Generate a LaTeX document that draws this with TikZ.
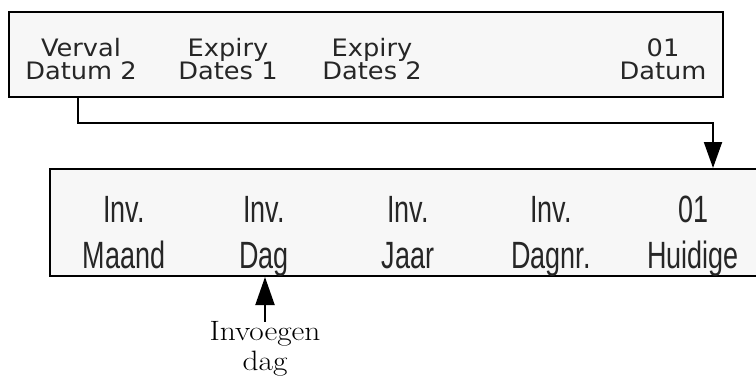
\documentclass[tikz,border=0pt]{standalone}
\usepackage{fontspec}
\usetikzlibrary{arrows.meta}
\newfontfamily\topfont[FakeStretch=1.07]{DejaVu Sans}
\newfontfamily\botfont[FakeStretch=0.71]{Liberation Sans}
\newfontfamily\labfont[FakeStretch=1.12]{Latin Modern Roman}
\begin{document}
\begin{tikzpicture}[x=1bp,y=-1bp,
  box/.style={draw=black, line width=2bp, fill=white!97!black, rectangle, inner sep=0pt, anchor=north west},
  toptxt/.style={font=\topfont\fontsize{24bp}{23bp}\selectfont, text=black!85, anchor=base, inner sep=0pt},
  bottxt/.style={font=\botfont\fontsize{38bp}{45bp}\selectfont, text=black!85, anchor=base, inner sep=0pt},
  labtxt/.style={font=\labfont\fontsize{28bp}{30bp}\selectfont, align=center, anchor=north, inner sep=0pt},
  conn/.style={draw=black, line width=2bp, -{Triangle[width=18bp,length=26bp]}}]
\useasboundingbox (0,0) rectangle (756,376);
\clip (0,0) rectangle (756,376);
\fill[white] (0,0) rectangle (756,376);
% top box
\node[box, minimum width=714bp, minimum height=85bp] (topbox) at (8,11) {};
\node[toptxt] (t1a) at (81,56) {Verval};
\node[toptxt] (t1b) at (81,79) {Datum 2};
\node[toptxt] (t2a) at (228,56) {Expiry};
\node[toptxt] (t2b) at (228,79) {Dates 1};
\node[toptxt] (t3a) at (372,56) {Expiry};
\node[toptxt] (t3b) at (372,79) {Dates 2};
\node[toptxt] (t4a) at (663,56) {01};
\node[toptxt] (t4b) at (663,79) {Datum};
% bottom box
\node[box, minimum width=730bp, minimum height=107bp] (botbox) at (49,168) {};
\node[bottxt] (b1a) at (124,222) {Inv.};
\node[bottxt] (b1b) at (124,268) {Maand};
\node[bottxt] (b2a) at (264,222) {Inv.};
\node[bottxt] (b2b) at (264,268) {Dag};
\node[bottxt] (b3a) at (408,222) {Inv.};
\node[bottxt] (b3b) at (408,268) {Jaar};
\node[bottxt] (b4a) at (551,222) {Inv.};
\node[bottxt] (b4b) at (551,268) {Dagnr.};
\node[bottxt] (b5a) at (693,222) {01};
\node[bottxt] (b5b) at (693,268) {Huidige};
% label
\node[labtxt] (lab) at (265,321.5) {Invoegen\\dag};
% connectors
\coordinate (c1) at (78,0);
\coordinate (c2) at (713,0);
\coordinate (turn) at (0,123);
\draw[conn] (topbox.south -| c1) -- (turn -| c1) -- (turn -| c2) -- (botbox.north -| c2);
\draw[conn, -{Triangle[width=19bp,length=28bp]}] (lab.north) -- (botbox.south -| lab.north);
\end{tikzpicture}
\end{document}
